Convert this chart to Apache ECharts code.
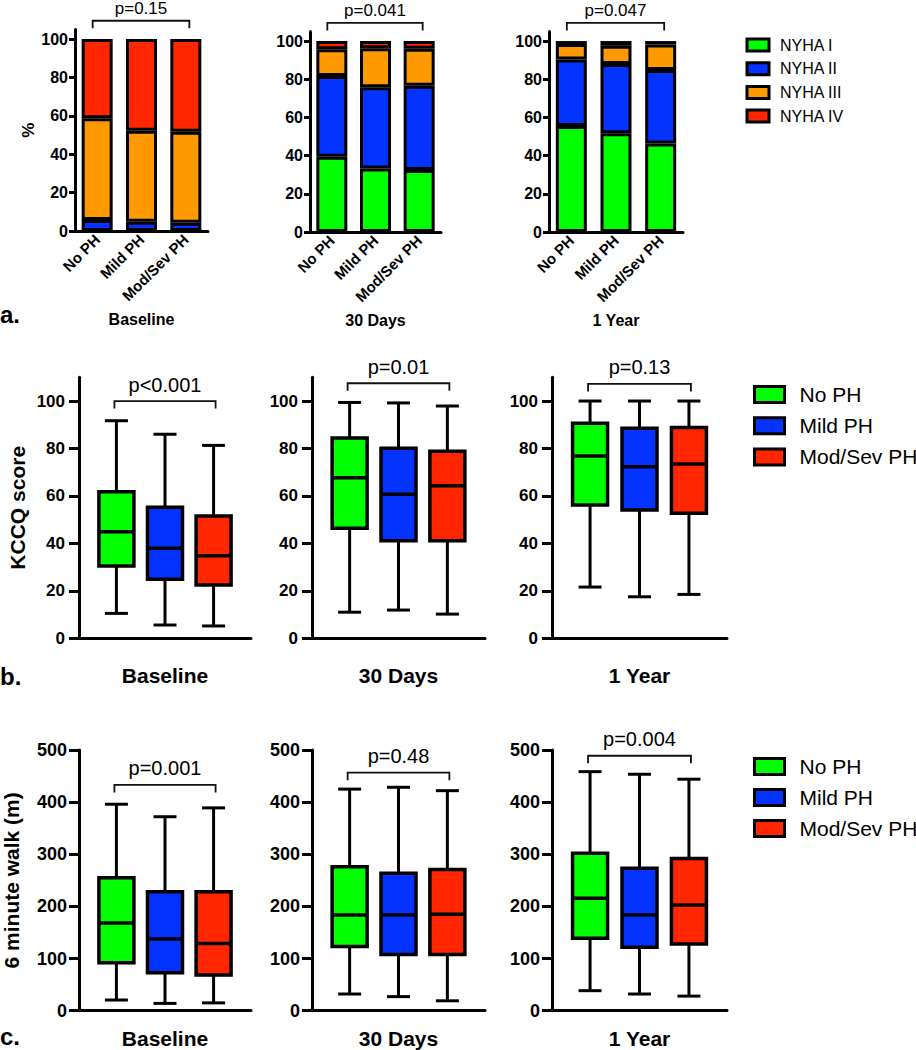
<!DOCTYPE html>
<html><head><meta charset="utf-8">
<script src="https://cdn.jsdelivr.net/npm/echarts@6/dist/echarts.min.js"></script>
<style>html,body{margin:0;padding:0;background:#fff}#c{width:916px;height:1050px}</style>
</head><body><div id="c"></div>
<script>
const FONT = "'Liberation Sans', Arial, Helvetica, sans-serif";

// ---------- data ----------
const groups = ['No PH', 'Mild PH', 'Mod/Sev PH'];
const groupColors = ['#00ff00', '#0433ff', '#ff2600'];
const nyhaClasses = ['NYHA I', 'NYHA II', 'NYHA III', 'NYHA IV'];
const nyhaColors = ['#00ff00', '#0433ff', '#ff9900', '#ff2600'];
const timepoints = ['Baseline', '30 Days', '1 Year'];

// % of patients in each NYHA class; rows = NYHA I..IV, columns = No PH, Mild PH, Mod/Sev PH
const nyhaBaseline = [[0, 0, 0], [5.7, 4.8, 4.3], [53.0, 47.4, 47.4], [41.3, 47.8, 48.3]];
const nyha30Days   = [[39.4, 33.3, 32.5], [42.3, 42.5, 44.1], [14.0, 20.4, 19.4], [4.3, 3.8, 4.0]];
const nyha1Year    = [[55.5, 51.7, 46.4], [34.9, 36.3, 38.4], [8.0, 9.5, 13.4], [1.6, 2.5, 1.8]];

// box plots: [min, Q1, median, Q3, max] per group
const kccqBaseline = [[10.5, 30.5, 44.9, 61.8, 91.7], [5.6, 24.9, 37.9, 55.2, 86.0], [5.2, 22.5, 34.8, 51.5, 81.3]];
const kccq30Days   = [[11.0, 46.4, 67.7, 84.4, 99.4], [11.9, 41.1, 60.7, 80.1, 99.2], [10.2, 41.1, 64.3, 78.8, 97.9]];
const kccq1Year    = [[21.6, 56.2, 76.8, 90.6, 100], [17.5, 54.1, 72.3, 88.5, 100], [18.5, 52.7, 73.5, 88.8, 100]];
const walkBaseline = [[20.5, 92, 168, 255, 396], [14, 73, 137.5, 228, 372], [15, 68.5, 129, 228, 389]];
const walk30Days   = [[32, 123, 183.5, 276, 425], [27, 108, 183.5, 263.5, 428.5], [19, 108, 185, 271, 422]];
const walk1Year    = [[38.4, 139, 215.6, 302, 458.5], [32, 121.5, 183.5, 273, 453.5], [28, 128, 202.8, 292, 444]];

// p-values and bracket heights (axis units)
const pNyha = ['p=0.15', 'p=0.041', 'p=0.047'];
const pKccq = ['p<0.001', 'p=0.01', 'p=0.13'];
const pWalk = ['p=0.001', 'p=0.48', 'p=0.004'];
const bracketNyha = [109.5, 109.5, 109.5];
const bracketKccq = [100, 107.5, 107.2];
const bracketWalk = [433, 456.5, 489];

// tick labels
const ticksNyha = [0, 20, 40, 60, 80, 100];
const ticksKccq = [0, 20, 40, 60, 80, 100];
const ticksWalk = [0, 100, 200, 300, 400, 500];

// ---------- layout ----------
const gridA = [
  {left: 75, top: 29.4, width: 133, height: 201.6},
  {left: 310, top: 31.5, width: 131, height: 200.5},
  {left: 549, top: 31.5, width: 134, height: 200.5}
];
const gridB = [
  {left: 79, top: 377.3, width: 172, height: 261},
  {left: 312, top: 377.3, width: 173, height: 261},
  {left: 552, top: 377.3, width: 175, height: 261}
];
const gridC = [
  {left: 79, top: 750, width: 172, height: 260.7},
  {left: 312, top: 750, width: 173, height: 260.7},
  {left: 552, top: 750, width: 175, height: 260.7}
];

const black = '#000';
const grids = [], xAxes = [], yAxes = [], series = [];

function addBracket(ax, yVal, text, fontSize, dl, dr, gap) {
  series.push({
    type: 'custom', xAxisIndex: ax, yAxisIndex: ax, silent: true, clip: false, z: 5,
    encode: {x: [0, 1], y: 2},
    data: [[0, 2, yVal]],
    renderItem: function (params, api) {
      const l = api.coord([api.value(0), api.value(2)]);
      const r = api.coord([api.value(1), api.value(2)]);
      const x1 = l[0] + dl, x2 = r[0] + dr, y = l[1], t = 7.5;
      const st = {stroke: '#111', lineWidth: 1.8, fill: null};
      return {type: 'group', children: [
        {type: 'polyline', shape: {points: [[x1, y + t], [x1, y], [x2, y], [x2, y + t]]}, style: st},
        {type: 'text', style: {text: text, x: (x1 + x2) / 2, y: y - gap, align: 'center', verticalAlign: 'middle',
          fontSize: fontSize, fontFamily: FONT, fill: black}}
      ]};
    }
  });
}

// Row a: stacked bars
const nyhaData = [nyhaBaseline, nyha30Days, nyha1Year];
for (let p = 0; p < 3; p++) {
  const ax = grids.length;
  grids.push(gridA[p]);
  xAxes.push({
    gridIndex: ax, type: 'category', data: groups,
    name: timepoints[p], nameLocation: 'middle', nameGap: 80,
    nameTextStyle: {fontSize: 16, fontWeight: 'bold', color: black, fontFamily: FONT},
    axisLine: {lineStyle: {color: black, width: 3}},
    axisTick: {show: false},
    axisLabel: {rotate: 45, interval: 0, margin: 6, fontSize: 15, fontWeight: 'bold', color: black, fontFamily: FONT}
  });
  yAxes.push({
    gridIndex: ax, type: 'value', min: 0, max: 105,
    name: p === 0 ? '%' : '', nameLocation: 'middle', nameGap: 34,
    nameTextStyle: {fontSize: 17, fontWeight: 'bold', color: black, fontFamily: FONT},
    axisLine: {show: true, onZero: false, lineStyle: {color: black, width: 3}},
    axisTick: {show: true, length: 6, lineStyle: {width: 3, color: black}, customValues: ticksNyha},
    axisLabel: {margin: 7, fontSize: 16, fontWeight: 'bold', color: black, fontFamily: FONT, customValues: ticksNyha},
    splitLine: {show: false}
  });
  for (let k = 0; k < 4; k++) {
    series.push({
      type: 'bar', name: nyhaClasses[k], stack: 'nyha' + p, xAxisIndex: ax, yAxisIndex: ax,
      barWidth: 31, data: nyhaData[p][k],
      itemStyle: {color: nyhaColors[k], borderColor: black, borderWidth: 3},
      silent: true
    });
  }
  addBracket(ax, bracketNyha[p], pNyha[p], 17, -4.5, 3.5, 12.5);
}

// Rows b & c: box plots
function boxRender(params, api) {
  const x = api.value(0);
  const lo = api.coord([x, api.value(1)]);
  const q1 = api.coord([x, api.value(2)]);
  const md = api.coord([x, api.value(3)]);
  const q3 = api.coord([x, api.value(4)]);
  const hi = api.coord([x, api.value(5)]);
  const cx = lo[0], hw = 17.5, cw = 11.5;
  const ls = {stroke: black, lineWidth: 3};
  return {type: 'group', children: [
    {type: 'line', shape: {x1: cx, y1: hi[1], x2: cx, y2: q3[1]}, style: ls},
    {type: 'line', shape: {x1: cx, y1: q1[1], x2: cx, y2: lo[1]}, style: ls},
    {type: 'line', shape: {x1: cx - cw, y1: hi[1], x2: cx + cw, y2: hi[1]}, style: ls},
    {type: 'line', shape: {x1: cx - cw, y1: lo[1], x2: cx + cw, y2: lo[1]}, style: ls},
    {type: 'rect', shape: {x: cx - hw, y: q3[1], width: 2 * hw, height: q1[1] - q3[1]},
      style: {fill: api.visual('color'), stroke: black, lineWidth: 3.5}},
    {type: 'line', shape: {x1: cx - hw, y1: md[1], x2: cx + hw, y2: md[1]}, style: {stroke: black, lineWidth: 3.5}}
  ]};
}

function boxRow(gridPos, datasets, yMax, ticks, yName, yNameGap, xNameGap, tickMargin, tickFont, pvals, brackets) {
  for (let p = 0; p < 3; p++) {
    const ax = grids.length;
    grids.push(gridPos[p]);
    xAxes.push({
      gridIndex: ax, type: 'value', min: -0.77, max: 2.77,
      name: timepoints[p], nameLocation: 'middle', nameGap: xNameGap,
      nameTextStyle: {fontSize: 21, fontWeight: 'bold', color: black, fontFamily: FONT},
      axisLine: {show: true, onZero: false, lineStyle: {color: black, width: 3}},
      axisTick: {show: false}, axisLabel: {show: false}, splitLine: {show: false}
    });
    yAxes.push({
      gridIndex: ax, type: 'value', min: 0, max: yMax,
      name: p === 0 ? yName : '', nameLocation: 'middle', nameGap: yNameGap,
      nameTextStyle: {fontSize: 21, fontWeight: 'bold', color: black, fontFamily: FONT},
      axisLine: {show: true, onZero: false, lineStyle: {color: black, width: 3}},
      axisTick: {show: true, length: 10, lineStyle: {width: 3, color: black}, customValues: ticks},
      axisLabel: {margin: tickMargin, fontSize: tickFont, fontWeight: 'bold', color: black, fontFamily: FONT, customValues: ticks},
      splitLine: {show: false}
    });
    for (let g = 0; g < 3; g++) {
      series.push({
        type: 'custom', name: groups[g], xAxisIndex: ax, yAxisIndex: ax, silent: true,
        itemStyle: {color: groupColors[g], borderColor: black, borderWidth: 3},
        encode: {x: 0, y: [1, 2, 3, 4, 5]},
        data: [[g].concat(datasets[p][g])],
        renderItem: boxRender
      });
    }
    addBracket(ax, brackets[p], pvals[p], 20, -2, 2, 16.5);
  }
}
boxRow(gridB, [kccqBaseline, kccq30Days, kccq1Year], 110, ticksKccq, 'KCCQ score', 51, 27, 14, 17, pKccq, bracketKccq);
boxRow(gridC, [walkBaseline, walk30Days, walk1Year], 500, ticksWalk, '6 minute walk (m)', 57, 17, 12, 18, pWalk, bracketWalk);

const legendCommon = {
  orient: 'vertical', icon: 'rect', padding: 0, selectedMode: false,
  itemStyle: {borderColor: black, borderWidth: 3}
};
const legends = [
  Object.assign({}, legendCommon, {data: nyhaClasses, left: 745.5, top: 37, itemWidth: 22, itemHeight: 12, itemGap: 7.7,
    textStyle: {fontSize: 16, lineHeight: 16, color: black, fontFamily: FONT, padding: [0, 0, 0, 6]}}),
  Object.assign({}, legendCommon, {data: groups, left: 753, top: 384, itemWidth: 30, itemHeight: 16, itemGap: 10.2,
    textStyle: {fontSize: 21, lineHeight: 21, color: black, fontFamily: FONT, padding: [0, 0, 0, 10]}}),
  Object.assign({}, legendCommon, {data: groups, left: 753, top: 756, itemWidth: 30, itemHeight: 16, itemGap: 10,
    textStyle: {fontSize: 21, lineHeight: 21, color: black, fontFamily: FONT, padding: [0, 0, 0, 10]}})
];

const panelLetters = ['a.', 'b.', 'c.'];
const letterY = [314, 676, 1036];
const graphics = panelLetters.map((t, i) => ({
  type: 'text', left: 0, top: letterY[i] - 12, silent: true,
  style: {text: t, fontSize: 24, fontWeight: 'bold', fontFamily: FONT, fill: black}
}));

const chart = echarts.init(document.getElementById('c'), null, {renderer: 'svg', width: 916, height: 1050});
chart.setOption({
  animation: false,
  backgroundColor: '#fff',
  textStyle: {fontFamily: FONT},
  grid: grids,
  xAxis: xAxes,
  yAxis: yAxes,
  legend: legends,
  series: series,
  graphic: graphics
});
</script></body></html>
